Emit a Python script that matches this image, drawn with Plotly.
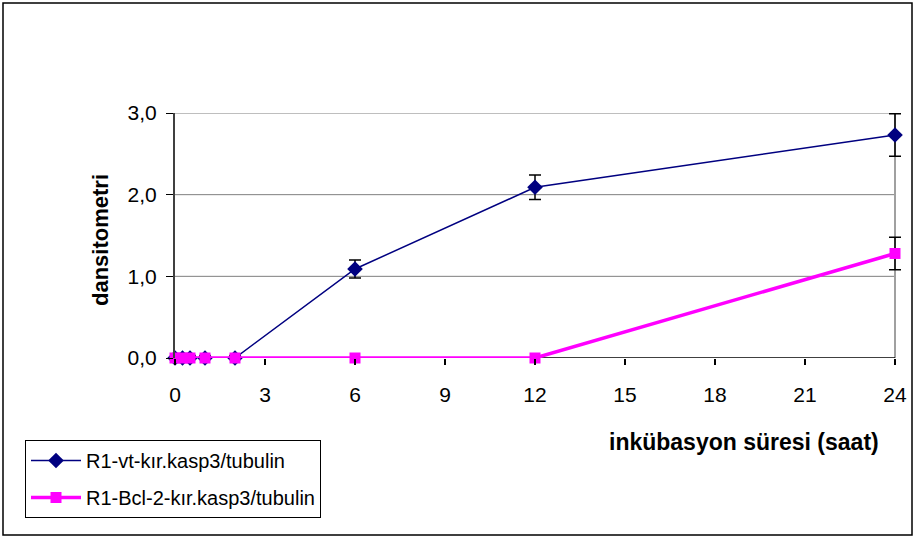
import plotly.graph_objects as go

# incubation time (hours)
time_h = [0, 0.25, 0.5, 1, 2, 6, 12, 24]

# densitometry ratios
vt_casp3 = [0.0, 0.0, 0.0, 0.0, 0.0, 1.09, 2.09, 2.73]
vt_casp3_err = [0.03, 0.03, 0.03, 0.03, 0.03, 0.11, 0.15, 0.26]

bcl2_casp3 = [0.0, 0.0, 0.0, 0.0, 0.0, 0.0, 0.0, 1.28]
bcl2_casp3_err = [0, 0, 0, 0, 0, 0, 0, 0.20]

x_ticks = [0, 3, 6, 9, 12, 15, 18, 21, 24]
y_ticks = [0.0, 1.0, 2.0, 3.0]

FONT = "Liberation Sans, Arial, sans-serif"

X_MAX, Y_MAX = 24, 3.0
X_PAD = 0.4  # room to the right so end-point error bars are not clipped

# plot-area pixel geometry
W, H = 915, 538
L, T, B = 175, 113, 180
UNIT = 30  # px per hour
R = W - L - int((X_MAX + X_PAD) * UNIT)
pw, ph = W - L - R, H - T - B


def px(xp):
    return (xp - L) / pw


def py(yp):
    return (H - B - yp) / ph


fig = go.Figure()

fig.add_trace(go.Scatter(
    x=time_h, y=vt_casp3, name="R1-vt-kır.kasp3/tubulin",
    legendgroup="vt",
    mode="lines+markers",
    line=dict(color="#000080", width=1.5),
    marker=dict(symbol="diamond", size=12, color="#000080"),
    error_y=dict(type="data", array=vt_casp3_err, visible=True,
                 color="black", thickness=1.5, width=6),
    cliponaxis=False,
))

fig.add_trace(go.Scatter(
    x=time_h, y=bcl2_casp3, name="R1-Bcl-2-kır.kasp3/tubulin",
    legendgroup="bcl2",
    mode="lines+markers",
    line=dict(color="#FF00FF", width=3.5),
    marker=dict(symbol="square", size=11, color="#FF00FF"),
    error_y=dict(type="data", array=bcl2_casp3_err, visible=True,
                 color="black", thickness=1.5, width=6),
    cliponaxis=False,
))

shapes = []
# horizontal gridlines, stopping at the right edge of the plot area
for yv in y_ticks[1:]:
    shapes.append(dict(type="line", xref="x", yref="y", x0=0, x1=X_MAX,
                       y0=yv, y1=yv, line=dict(color="#7f7f7f", width=1),
                       layer="below"))
# right edge of the plot area
shapes.append(dict(type="line", xref="x", yref="y", x0=X_MAX, x1=X_MAX,
                   y0=0, y1=Y_MAX, line=dict(color="#a0a0a0", width=2),
                   layer="below"))
# x axis line
shapes.append(dict(type="line", xref="x", yref="y", x0=0, x1=X_MAX,
                   y0=0, y1=0, line=dict(color="black", width=1.5),
                   layer="below"))
# outer chart frame
shapes.append(dict(type="rect", xref="paper", yref="paper",
                   x0=px(3), x1=px(912), y0=py(535), y1=py(3),
                   line=dict(color="black", width=1.5)))

fig.update_layout(
    width=W, height=H,
    margin=dict(l=L, r=R, t=T, b=B, autoexpand=False),
    paper_bgcolor="white", plot_bgcolor="white",
    separators=", ",
    font=dict(family=FONT, color="black"),
    showlegend=True,
    legend=dict(
        x=px(25), y=py(440), xanchor="left", yanchor="top",
        bordercolor="black", borderwidth=1,
        font=dict(family=FONT, size=20, color="black"),
        itemwidth=50, traceorder="grouped", tracegroupgap=8,
        bgcolor="white",
    ),
    xaxis=dict(
        range=[0, X_MAX + X_PAD], tickvals=x_ticks,
        showgrid=False, zeroline=False, showline=False,
        ticks="outside", ticklen=6, tickcolor="black", tickwidth=1.5,
        ticklabelstandoff=12,
        tickfont=dict(family=FONT, size=21, color="black"),
    ),
    yaxis=dict(
        range=[0, Y_MAX], tickvals=y_ticks, tickformat=".1f",
        showgrid=False, zeroline=False,
        showline=True, linecolor="#404040", linewidth=2,
        ticks="outside", ticklen=7, tickcolor="black",
        ticklabelstandoff=5,
        tickfont=dict(family=FONT, size=21, color="black"),
    ),
    annotations=[
        dict(text="<b>inkübasyon süresi (saat)</b>", xref="paper", yref="paper",
             x=px(744), y=py(442), xanchor="center", yanchor="middle",
             showarrow=False,
             font=dict(family=FONT, size=23, color="black")),
        dict(text="<b>dansitometri</b>", xref="paper", yref="paper",
             x=px(100), y=py(240), xanchor="center", yanchor="middle",
             showarrow=False, textangle=-90,
             font=dict(family=FONT, size=22, color="black")),
    ],
    shapes=shapes,
)

fig.write_html("out.html")
